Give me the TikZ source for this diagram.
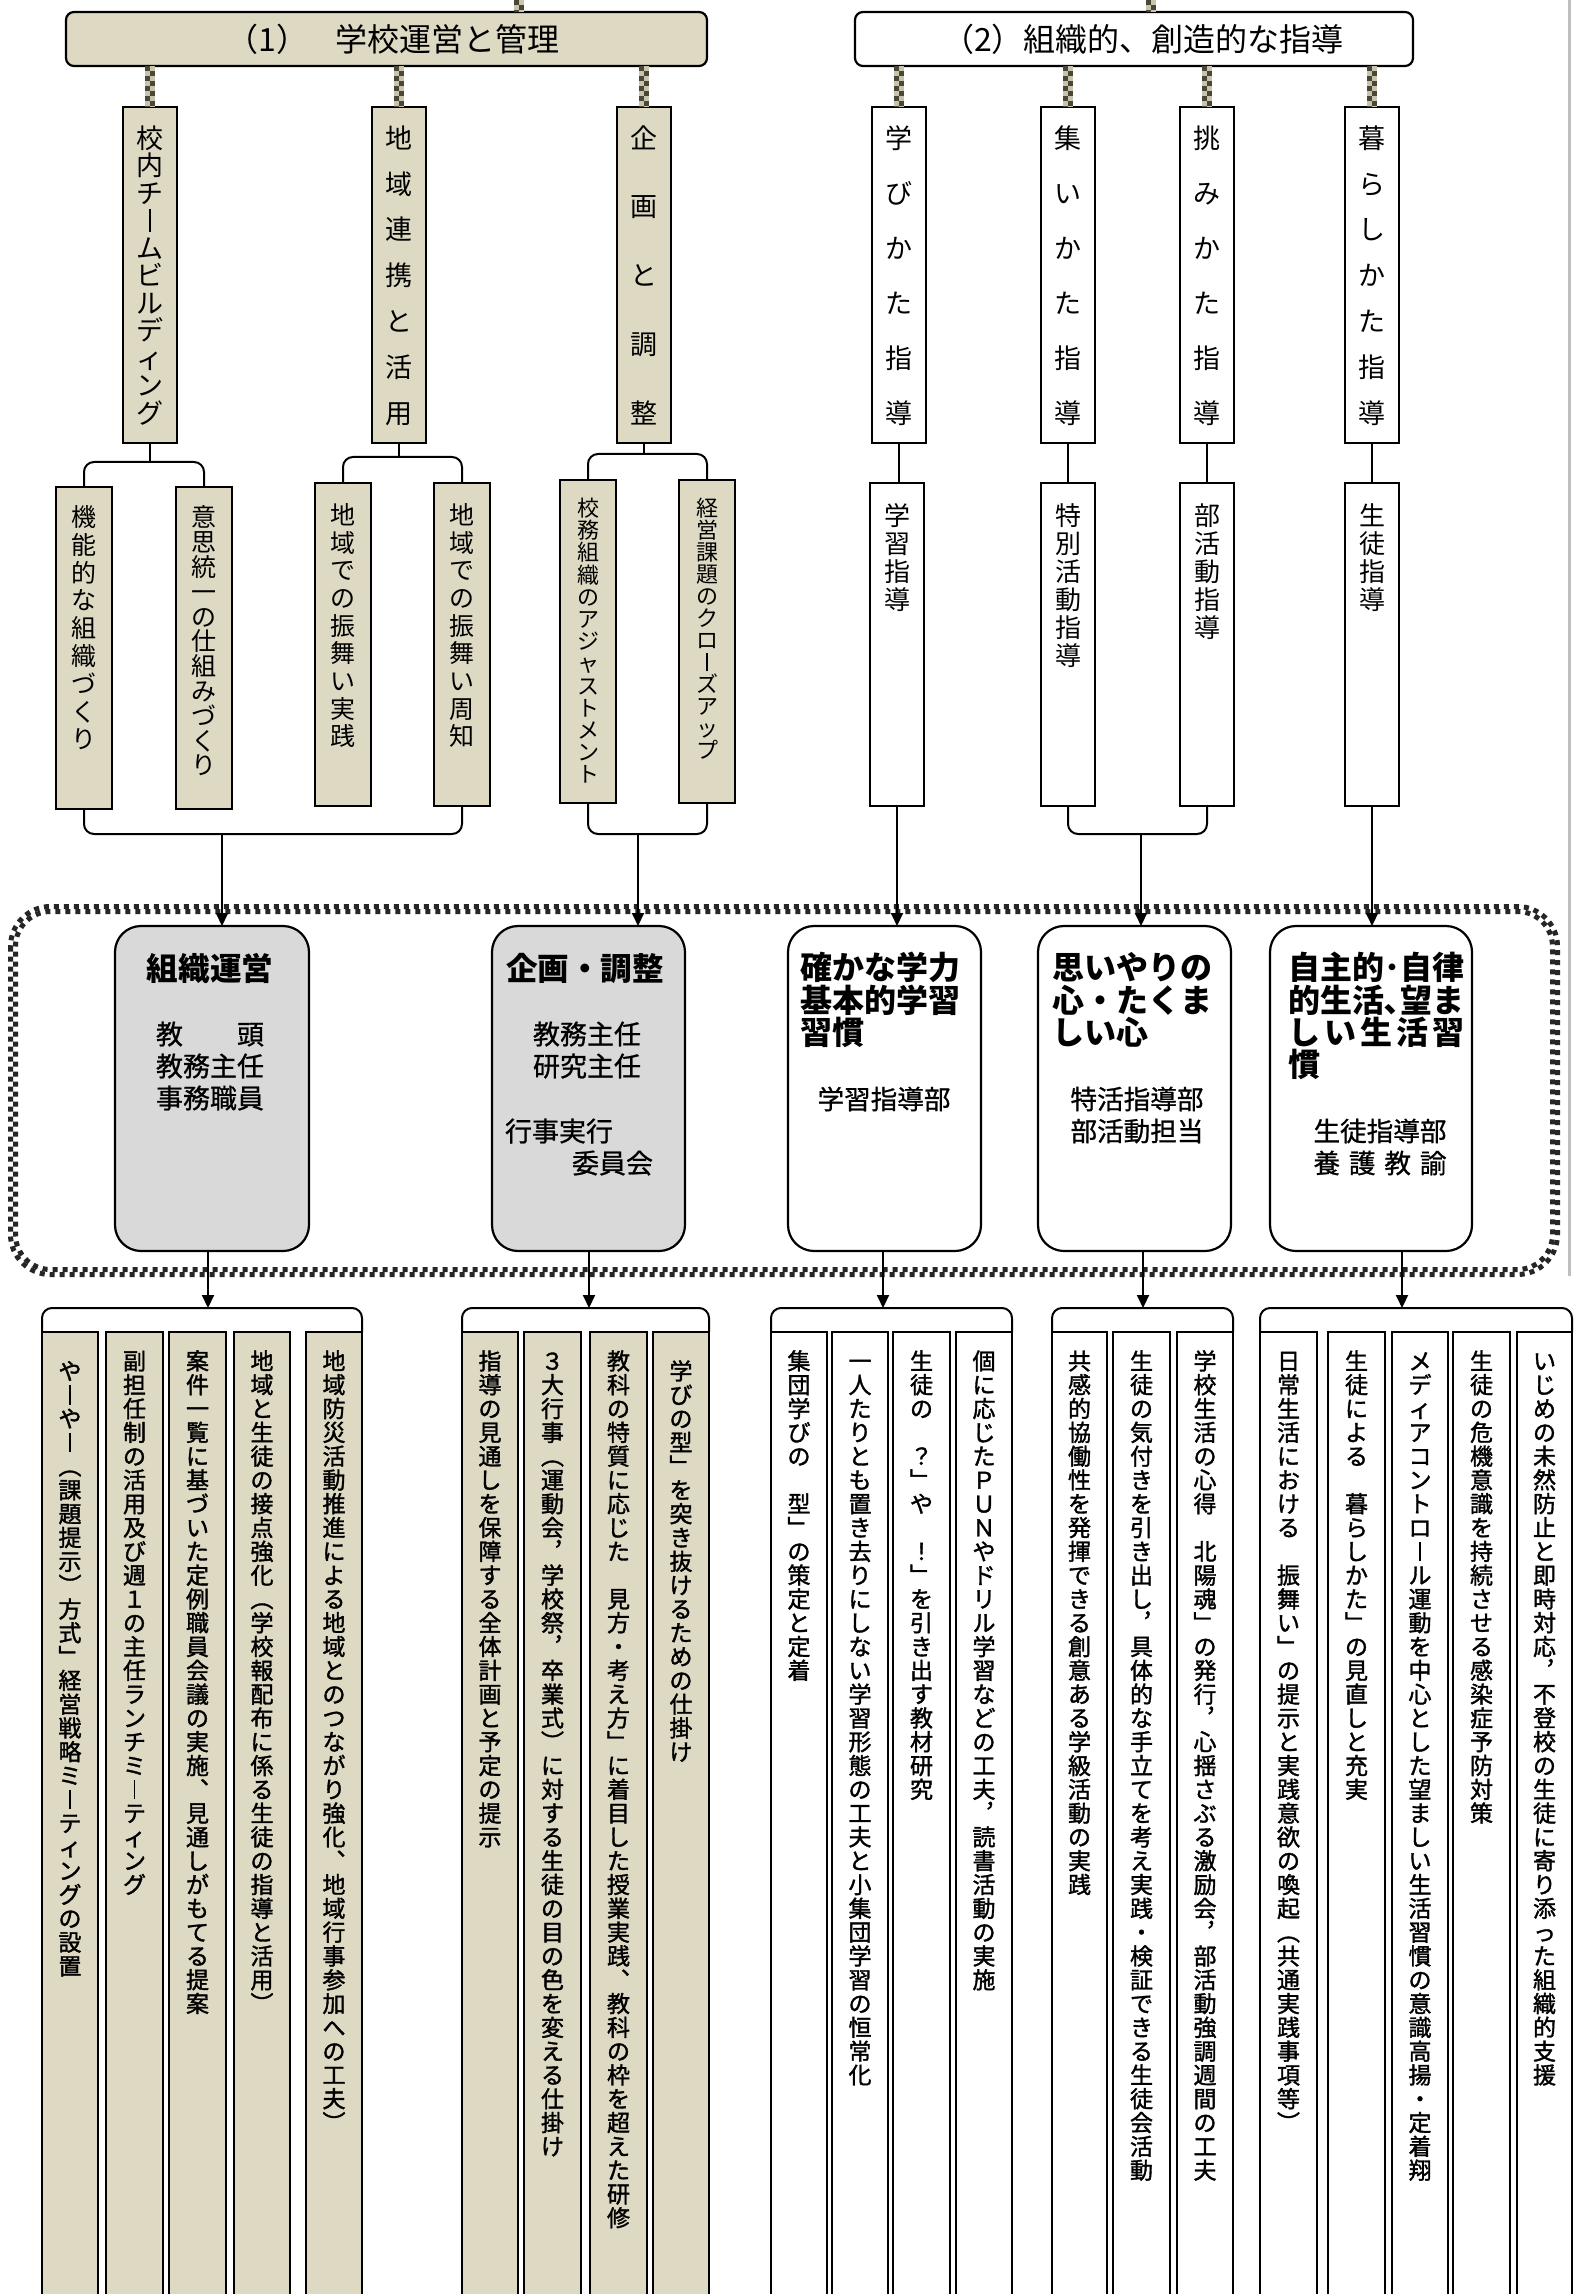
\documentclass[tikz,border=0pt]{standalone}
\usepackage{fontspec}
\setmainfont{Noto Sans CJK JP}
\newfontfamily\gfb[FakeBold=1.5]{Noto Sans CJK JP}
\newfontfamily\gfm[FakeBold=0.8]{Noto Sans CJK JP}
\usetikzlibrary{arrows.meta,calc}
\definecolor{tanf}{HTML}{DDD9C3}
\definecolor{midg}{HTML}{D9D9D9}
\definecolor{chkl}{HTML}{C8C4AD}
\definecolor{chkd}{HTML}{4A4736}
\newcommand\fsz[1]{\fontsize{#1pt}{#1pt}\selectfont}
\newcommand\cs{\vrule height .88em depth .12em width 0pt\relax}
\makeatletter
\def\vc@end{\vc@end}
\newdimen\vc@pitch
\newcommand\vcol[2]{\vbox{\offinterlineskip\vc@pitch=#1pt\divide\vc@pitch by 2\relax\vc@loop#2\vc@end}}
\def\vc@loop#1{\ifx\vc@end#1\else\hbox to 2em{\hss\vbox to\vc@pitch{\vss\hbox{\vrule height .88em depth .12em width 0pt\relax#1}\vss}\hss}\expandafter\vc@loop\fi}
\makeatother
\newcommand\vl{\hbox to 1em{\hss\vrule width .08em height .8em depth .05em\hss}}
\newcommand\vb{\hbox to 1em{}}
\newcommand\vt[6]{\node[anchor=north,inner sep=0pt,outer sep=0pt] (#1) at (#2,#3) {\fsz{#5}\vcol{#4}{#6}};}
\newcommand\vtb[6]{\node[anchor=north,inner sep=0pt,outer sep=0pt] (#1) at (#2,#3) {\gfb\fsz{#5}\vcol{#4}{#6}};}
\newcommand\bx[6]{\node[#2,minimum width={(#5-#3)*0.5pt},minimum height={(#6-#4)*0.5pt}] (#1) at ({(#3+#5)/2},{(#4+#6)/2}) {};}
\newcommand\chk[2]{%
 \draw[line width=5pt,chkl] #1 -- #2;
 \draw[line width=2.5pt,chkd,dash pattern=on 2.5pt off 2.5pt,transform canvas={xshift=-1.25pt}] #1 -- #2;
 \draw[line width=2.5pt,chkd,dash pattern=on 2.5pt off 2.5pt,dash phase=2.5pt,transform canvas={xshift=1.25pt}] #1 -- #2;}
\begin{document}
\begin{tikzpicture}[x=0.5pt,y=-0.5pt,
  box/.style={draw=black,line width=1.1pt,inner sep=0pt,outer sep=0pt},
  tanbox/.style={box,fill=tanf},
  whbox/.style={box,fill=white},
  conn/.style={draw=black,line width=1pt},
  arr/.style={conn,-{Triangle[length=6.5pt,width=6pt]}},
  brk/.style={conn,rounded corners=5pt},
  txt/.style={inner sep=0pt,outer sep=0pt}]
\useasboundingbox (0,0) rectangle (1573,2294);
\clip (0,0) rectangle (1573,2294);
\fill[white] (0,0) rectangle (1573,2294);
\draw[black!25,line width=1.5pt] (1569,0) -- (1569,1276);
% dotted frame
\draw[black!85,line width=2.5pt,dash pattern=on 2.5pt off 2.5pt,rounded corners=20pt] (10.5,906.5) rectangle (1557.5,1274.5);
\draw[black!85,line width=2.5pt,dash pattern=on 2.5pt off 2.5pt,dash phase=2.5pt,rounded corners=17.5pt] (15.5,911.5) rectangle (1552.5,1269.5);
% top boxes
\bx{T1}{tanbox,rounded corners=4pt}{66}{12}{707}{66}
\bx{T2}{whbox,rounded corners=4pt}{855}{12}{1413}{66}
\node[txt] (T1t) at (393,39) {\fsz{16}\cs（1）\hspace{0.85em}学校運営と管理};
\node[txt] (T2t) at (1143,39) {\fsz{16}\cs（2）組織的、創造的な指導};
\coordinate (U1) at (519,0);
\coordinate (U2) at (1151,0);
% level 1
\bx{L1a}{tanbox}{123}{107}{177}{443}
\bx{L1b}{tanbox}{372}{107}{426}{443}
\bx{L1c}{tanbox}{617}{107}{671}{443}
\bx{L2a}{whbox}{872}{107}{926}{443}
\bx{L2b}{whbox}{1041}{107}{1095}{443}
\bx{L2c}{whbox}{1180}{107}{1234}{443}
\bx{L2d}{whbox}{1345}{107}{1399}{443}
\vt{L1at}{150}{124.25}{27.5}{13.5}{校内チ\vl ムビルディング}
\vt{L1bt}{399}{115.1}{45.83}{13.5}{地域連携と活用}
\vt{L1ct}{644}{103.6}{68.75}{13.5}{企画と調整}
\vt{L2at}{899}{110.5}{55}{13.5}{学びかた指導}
\vt{L2bt}{1068}{110.5}{55}{13.5}{集いかた指導}
\vt{L2ct}{1207}{110.5}{55}{13.5}{挑みかた指導}
\vt{L2dt}{1372}{115.1}{45.83}{13.5}{暮らしかた指導}
% level 2
\bx{F1}{tanbox}{56}{487}{112}{809}
\bx{F2}{tanbox}{176}{487}{232}{809}
\bx{F3}{tanbox}{315}{483}{371}{806}
\bx{F4}{tanbox}{434}{483}{490}{806}
\bx{F5}{tanbox}{560}{480}{616}{803}
\bx{F6}{tanbox}{679}{480}{735}{803}
\bx{G1}{whbox}{870}{483}{924}{806}
\bx{G2}{whbox}{1041}{483}{1095}{806}
\bx{G3}{whbox}{1180}{483}{1234}{806}
\bx{G4}{whbox}{1345}{483}{1399}{806}
\vt{F1t}{84}{503}{27.8}{12.5}{機能的な組織づくり}
\vt{F2t}{204}{505}{24.8}{12.5}{意思統一の仕組みづくり}
\vt{F3t}{343}{501}{27.7}{12.5}{地域での振舞い実践}
\vt{F4t}{462}{501}{27.7}{12.5}{地域での振舞い周知}
\vt{F5t}{588}{497}{22.2}{11}{校務組織のアジャストメント}
\vt{F6t}{707}{497}{22}{11}{経営課題のクロ\vl ズアップ}
\vt{G1t}{897}{502}{28}{13}{学習指導}
\vt{G2t}{1068}{502}{28}{13}{特別活動指導}
\vt{G3t}{1207}{502}{28}{13}{部活動指導}
\vt{G4t}{1372}{502}{28}{13}{生徒指導}
% middle boxes
\bx{M1}{box,fill=midg,rounded corners=13pt}{115}{926}{309}{1251}
\bx{M2}{box,fill=midg,rounded corners=13pt}{492}{926}{685}{1251}
\bx{M3}{whbox,rounded corners=13pt}{788}{926}{981}{1251}
\bx{M4}{whbox,rounded corners=13pt}{1038}{926}{1231}{1251}
\bx{M5}{whbox,rounded corners=13pt}{1270}{926}{1472}{1251}
\node[txt] (M1t) at (210,968) {\fsz{15.8}\bfseries\cs 組織運営};
\node[txt] (M1a) at (210,1034) {\gfm\fsz{13.5}\cs 教\hspace{2em}頭};
\node[txt] (M1b) at (210,1066) {\gfm\fsz{13.5}\cs 教務主任};
\node[txt] (M1c) at (210,1098) {\gfm\fsz{13.5}\cs 事務職員};
\node[txt] (M2t) at (585,968) {\fsz{15.8}\bfseries\cs 企画・調整};
\node[txt] (M2a) at (587,1034) {\gfm\fsz{13.5}\cs 教務主任};
\node[txt] (M2b) at (587,1066) {\gfm\fsz{13.5}\cs 研究主任};
\node[txt,anchor=west] (M2c) at (505,1131) {\gfm\fsz{13.5}\cs 行事実行};
\node[txt,anchor=east] (M2d) at (653,1163) {\gfm\fsz{13.5}\cs 委員会};
\node[txt,anchor=west] (M3t1) at (800,967) {\fsz{16}\bfseries\cs 確かな学力};
\node[txt,anchor=west] (M3t2) at (800,1000) {\fsz{16}\bfseries\cs 基本的学習};
\node[txt,anchor=west] (M3t3) at (800,1032) {\fsz{16}\bfseries\cs 習慣};
\node[txt] (M3a) at (884,1099) {\gfm\fsz{13.3}\cs 学習指導部};
\node[txt,anchor=west] (M4t1) at (1052,967) {\fsz{16}\bfseries\cs 思いやりの};
\node[txt,anchor=west] (M4t2) at (1052,1000) {\fsz{16}\bfseries\cs 心・たくま};
\node[txt,anchor=west] (M4t3) at (1052,1032) {\fsz{16}\bfseries\cs しい心};
\node[txt] (M4a) at (1137,1099) {\gfm\fsz{13.3}\cs 特活指導部};
\node[txt] (M4b) at (1137,1131) {\gfm\fsz{13.3}\cs 部活動担当};
\node[txt,anchor=west] (M5t1) at (1288,967) {\fsz{16}\bfseries\cs 自主的･自律};
\node[txt,anchor=west] (M5t2) at (1288,1000) {\fsz{16}\bfseries\cs 的生活､望ま};
\node[txt,anchor=west] (M5t3) at (1288,1032) {\fsz{16}\bfseries\cs\makebox[88pt][l]{し\hfill い\hfill 生\hfill 活\hfill 習}};
\node[txt,anchor=west] (M5t4) at (1288,1064) {\fsz{16}\bfseries\cs 慣};
\node[txt] (M5a) at (1380,1131) {\gfm\fsz{13.3}\cs 生徒指導部};
\node[txt] (M5b) at (1380,1163) {\gfm\fsz{13.3}\cs\makebox[66.5pt][l]{養\hfill 護\hfill 教\hfill 諭}};
% bottom boxes
\bx{B11}{tanbox}{42}{1332}{98}{2310}
\bx{B12}{tanbox}{106}{1332}{163}{2310}
\bx{B13}{tanbox}{169}{1332}{226}{2310}
\bx{B14}{tanbox}{234}{1332}{290}{2310}
\bx{B15}{tanbox}{306}{1332}{362}{2310}
\bx{B21}{tanbox}{462}{1332}{518}{2310}
\bx{B22}{tanbox}{524}{1332}{581}{2310}
\bx{B23}{tanbox}{590}{1332}{647}{2310}
\bx{B24}{tanbox}{653}{1332}{709}{2310}
\bx{B31}{whbox}{771}{1332}{827}{2310}
\bx{B32}{whbox}{832}{1332}{888}{2310}
\bx{B33}{whbox}{893}{1332}{950}{2310}
\bx{B34}{whbox}{956}{1332}{1012}{2310}
\bx{B41}{whbox}{1052}{1332}{1107}{2310}
\bx{B42}{whbox}{1113}{1332}{1170}{2310}
\bx{B43}{whbox}{1177}{1332}{1233}{2310}
\bx{B51}{whbox}{1260}{1332}{1317}{2310}
\bx{B52}{whbox}{1328}{1332}{1385}{2310}
\bx{B53}{whbox}{1392}{1332}{1448}{2310}
\bx{B54}{whbox}{1453}{1332}{1510}{2310}
\bx{B55}{whbox}{1517}{1332}{1572}{2310}
\vtb{B11t}{70}{1359}{23.8}{11.5}{や\vl や\vl ︵課題提示︶方式﹂経営戦略ミ\vl ティングの設置}
\vtb{B12t}{134.5}{1349}{23.8}{11.5}{副担任制の活用及び週１の主任ランチミ\vl ティング}
\vtb{B13t}{197.5}{1349}{23.8}{11.5}{案件一覧に基づいた定例職員会議の実施︑見通しがもてる提案}
\vtb{B14t}{262}{1349}{23.8}{11.5}{地域と生徒の接点強化︵学校報配布に係る生徒の指導と活用︶}
\vtb{B15t}{334}{1349}{23.8}{11.5}{地域防災活動推進による地域とのつながり強化︑地域行事参加への工夫︶}
\vtb{B21t}{490}{1349}{23.8}{11.5}{指導の見通しを保障する全体計画と予定の提示}
\vtb{B22t}{552.5}{1349}{23.8}{11.5}{３大行事︵運動会︐学校祭︐卒業式︶に対する生徒の目の色を変える仕掛け}
\vtb{B23t}{618.5}{1349}{23.8}{11.5}{教科の特質に応じた\vb 見方・考え方﹂に着目した授業実践︑教科の枠を超えた研修}
\vtb{B24t}{681}{1359}{23.8}{11.5}{学びの型﹂を突き抜けるための仕掛け}
\vtb{B31t}{799}{1349}{23.8}{11.5}{集団学びの\vb 型﹂の策定と定着}
\vtb{B32t}{860}{1349}{23.8}{11.5}{一人たりとも置き去りにしない学習形態の工夫と小集団学習の恒常化}
\vtb{B33t}{921.5}{1349}{23.8}{11.5}{生徒の\vb ？﹂や\vb ！﹂を引き出す教材研究}
\vtb{B34t}{984}{1349}{23.8}{11.5}{個に応じたＰＵＮやドリル学習などの工夫︐読書活動の実施}
\vtb{B41t}{1079.5}{1349}{23.8}{11.5}{共感的協働性を発揮できる創意ある学級活動の実践}
\vtb{B42t}{1141.5}{1349}{23.8}{11.5}{生徒の気付きを引き出し︐具体的な手立てを考え実践・検証できる生徒会活動}
\vtb{B43t}{1205}{1349}{23.8}{11.5}{学校生活の心得\vb 北陽魂﹂の発行︐心揺さぶる激励会︐部活動強調週間の工夫}
\vtb{B51t}{1288.5}{1349}{23.8}{11.5}{日常生活における\vb 振舞い﹂の提示と実践意欲の喚起︵共通実践事項等︶}
\vtb{B52t}{1356.5}{1349}{23.8}{11.5}{生徒による\vb 暮らしかた﹂の見直しと充実}
\vtb{B53t}{1420}{1349}{23.8}{11.5}{メディアコントロ\vl ル運動を中心とした望ましい生活習慣の意識高揚・定着翔}
\vtb{B54t}{1481.5}{1349}{23.8}{11.5}{生徒の危機意識を持続させる感染症予防対策}
\vtb{B55t}{1544.5}{1349}{23.8}{11.5}{いじめの未然防止と即時対応︐不登校の生徒に寄り添った組織的支援}
% patterned connectors
\chk{(U1)}{(U1 |- T1.north)}
\chk{(U2)}{(U2 |- T2.north)}
\chk{(L1a.north |- T1.south)}{(L1a.north)}
\chk{(L1b.north |- T1.south)}{(L1b.north)}
\chk{(L1c.north |- T1.south)}{(L1c.north)}
\chk{(L2a.north |- T2.south)}{(L2a.north)}
\chk{(L2b.north |- T2.south)}{(L2b.north)}
\chk{(L2c.north |- T2.south)}{(L2c.north)}
\chk{(L2d.north |- T2.south)}{(L2d.north)}
% level1 -> level2
\coordinate (K1) at ($(L1a.south)+(0,19)$);
\coordinate (K2) at ($(L1b.south)+(0,14)$);
\coordinate (K3) at ($(L1c.south)+(0,11)$);
\draw[conn] (L1a.south) -- (K1);
\draw[brk] (F1.north) |- (K1) -| (F2.north);
\draw[conn] (L1b.south) -- (K2);
\draw[brk] (F3.north) |- (K2) -| (F4.north);
\draw[conn] (L1c.south) -- (K3);
\draw[brk] (F5.north) |- (K3) -| (F6.north);
\draw[conn] (L2a.south) -- (L2a.south |- G1.north);
\draw[conn] (L2b.south) -- (L2b.south |- G2.north);
\draw[conn] (L2c.south) -- (L2c.south |- G3.north);
\draw[conn] (L2d.south) -- (L2d.south |- G4.north);
% level2 -> middle
\coordinate (J1) at (222,834);
\coordinate (J2) at (638,834);
\coordinate (J3) at (1141,834);
\draw[brk] (F1.south) |- (J1) -| (F4.south);
\draw[arr] (J1) -- (J1 |- M1.north);
\draw[brk] (F5.south) |- (J2) -| (F6.south);
\draw[arr] (J2) -- (J2 |- M2.north);
\draw[brk] (G2.south) |- (J3) -| (G3.south);
\draw[arr] (J3) -- (J3 |- M4.north);
\draw[arr] (G1.south) -- (G1.south |- M3.north);
\draw[arr] (G4.south) -- (G4.south |- M5.north);
% middle -> bottom
\coordinate (P1) at (208,1308);
\coordinate (P2) at (589,1308);
\coordinate (P3) at (883,1308);
\coordinate (P4) at (1143,1308);
\coordinate (P5) at (1402,1308);
\draw[arr] (P1 |- M1.south) -- (P1);
\draw[arr] (P2 |- M2.south) -- (P2);
\draw[arr] (P3 |- M3.south) -- (P3);
\draw[arr] (P4 |- M4.south) -- (P4);
\draw[arr] (P5 |- M5.south) -- (P5);
\draw[brk] (B11.north west) |- (P1) -| (B15.north east);
\draw[brk] (B21.north west) |- (P2) -| (B24.north east);
\draw[brk] (B31.north west) |- (P3) -| (B34.north east);
\draw[brk] (B41.north west) |- (P4) -| (B43.north east);
\draw[brk] (B51.north west) |- (P5) -| (B55.north east);
\end{tikzpicture}
\end{document}
